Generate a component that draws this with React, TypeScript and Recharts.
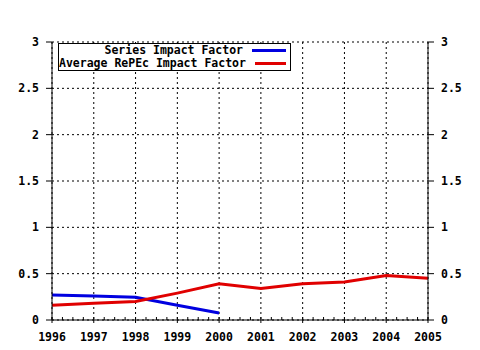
import { LineChart, Line, XAxis, YAxis, CartesianGrid } from "recharts";

const years = [1996, 1997, 1998, 1999, 2000, 2001, 2002, 2003, 2004, 2005];
const seriesIF = [0.27, 0.26, 0.245, 0.16, 0.075, null, null, null, null, null];
const repecIF = [0.16, 0.18, 0.2, 0.29, 0.39, 0.34, 0.39, 0.41, 0.48, 0.45];
const yTicks = [0, 0.5, 1, 1.5, 2, 2.5, 3];
const yLabels = ["0", "0.5", "1", "1.5", "2", "2.5", "3"];
const minorTicks: number[] = [];
for (let y = 1996; y < 2005; y++) minorTicks.push(y, y + 0.25, y + 0.5, y + 0.75);
minorTicks.push(2005);

const data = years.map((y, i) => ({ year: y, series: seriesIF[i], repec: repecIF[i] }));

const FONT = "'DejaVu Sans Mono', monospace";

// vertical grid only on whole years, not on the minor ticks
function yearGrid({ xAxis, offset }: any) {
  const first = years[0];
  const span = years[years.length - 1] - first;
  return years.map((y) => {
    const s = xAxis && xAxis.scale;
    if (typeof s === "function") return s(y);
    if (s && typeof s.map === "function") return s.map(y);
    return offset.left + ((y - first) / span) * offset.width;
  });
}

// bottom axis: draws minor ticks itself, labels only on whole years
function BottomTick(props: any) {
  const { x, y, payload } = props;
  const axisY = y - 10;
  const major = Number.isInteger(payload.value);
  return (
    <g>
      <line x1={x} x2={x} y1={axisY - 3} y2={major ? axisY + 3 : axisY} stroke="#000" />
      {major && (
        <text x={x} y={axisY + 21} textAnchor="middle" fontFamily={FONT} fontWeight="bold" fontSize={11.5} fill="#000">
          {payload.value}
        </text>
      )}
    </g>
  );
}

function LegendBox() {
  const rows = [
    { label: "Series Impact Factor", color: "#0000e0" },
    { label: "Average RePEc Impact Factor", color: "#e00000" },
  ];
  return (
    <div style={{ position: "absolute", left: 58, top: 43, border: "1px solid #000", background: "#fff", width: 231, fontFamily: FONT, fontWeight: "bold", fontSize: 11.5, lineHeight: "13px" }}>
      {rows.map((r) => (
        <div key={r.label} style={{ display: "flex", alignItems: "center", justifyContent: "flex-end", height: 13 }}>
          <span style={{ whiteSpace: "pre" }}>{r.label}</span>
          <span style={{ display: "inline-block", width: 34, height: 3, background: r.color, margin: "0 4px 0 9px" }} />
        </div>
      ))}
    </div>
  );
}

export default function App() {
  return (
    <div style={{ position: "absolute", left: 0, top: 0, width: 480, height: 350, background: "#fff" }}>
      <LineChart width={480} height={350} data={data} margin={{ top: 42, right: 0, bottom: 0, left: 0 }}>
        <CartesianGrid
          stroke="#000"
          strokeDasharray="2 3"
          xAxisId="bottom"
          yAxisId="left"
          verticalCoordinatesGenerator={yearGrid}
        />
        <XAxis
          xAxisId="bottom"
          dataKey="year"
          type="number"
          domain={[1996, 2005]}
          ticks={minorTicks}
          interval={0}
          height={30}
          tickLine={false}
          tickSize={4}
          tickMargin={6}
          axisLine={{ stroke: "#000" }}
          tick={<BottomTick />}
        />
        <XAxis
          xAxisId="top"
          orientation="top"
          dataKey="year"
          type="number"
          domain={[1996, 2005]}
          ticks={minorTicks}
          interval={0}
          height={0}
          mirror
          tick={false}
          tickSize={3}
          stroke="#000"
        />
        <YAxis
          yAxisId="left"
          width={52}
          domain={[0, 3]}
          ticks={yTicks}
          interval={0}
          tickSize={6}
          tickMargin={7}
          stroke="#000"
          tickFormatter={(v: number) => yLabels[yTicks.indexOf(v)]}
          tick={{ fill: "#000", fontFamily: FONT, fontWeight: "bold", fontSize: 11.5 }}
        />
        <YAxis
          yAxisId="right"
          orientation="right"
          width={52}
          domain={[0, 3]}
          ticks={yTicks}
          interval={0}
          tickSize={6}
          tickMargin={7}
          stroke="#000"
          tickFormatter={(v: number) => yLabels[yTicks.indexOf(v)]}
          tick={{ fill: "#000", fontFamily: FONT, fontWeight: "bold", fontSize: 11.5 }}
        />
        <Line
          xAxisId="bottom"
          yAxisId="right"
          dataKey="repec"
          stroke="none"
          dot={false}
          activeDot={false}
          legendType="none"
          isAnimationActive={false}
        />
        <Line
          xAxisId="bottom"
          yAxisId="left"
          dataKey="series"
          stroke="#0000e0"
          strokeWidth={3}
          dot={false}
          isAnimationActive={false}
        />
        <Line
          xAxisId="bottom"
          yAxisId="left"
          dataKey="repec"
          stroke="#e00000"
          strokeWidth={3}
          dot={false}
          isAnimationActive={false}
        />
      </LineChart>
      <LegendBox />
    </div>
  );
}
